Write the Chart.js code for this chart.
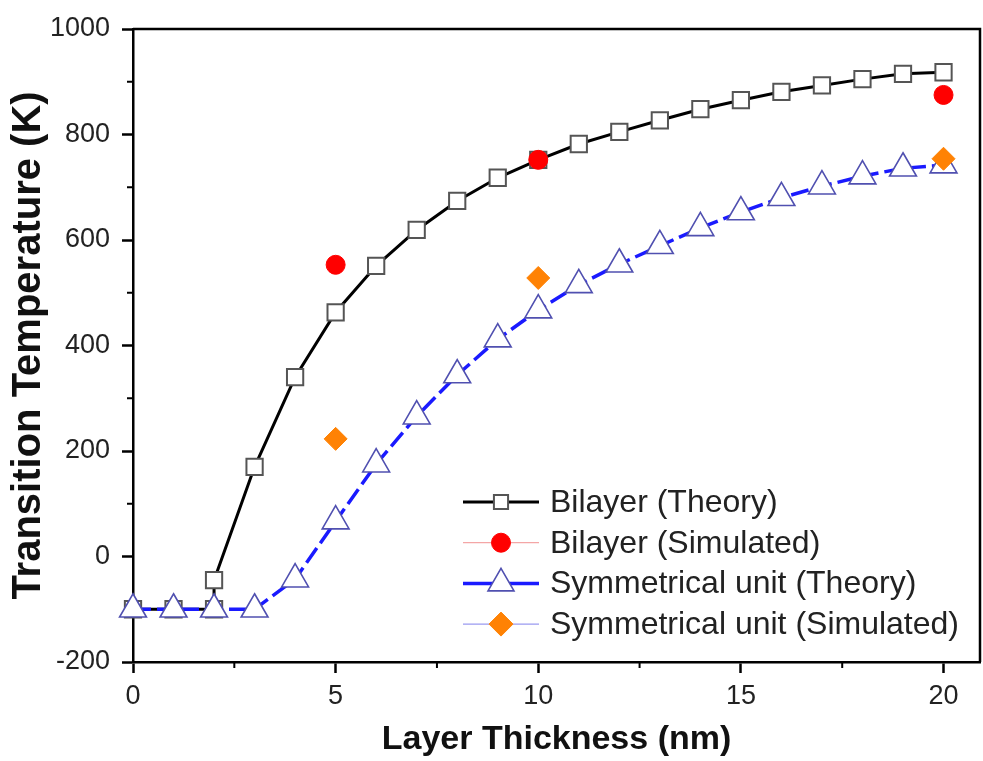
<!DOCTYPE html>
<html>
<head>
<meta charset="utf-8">
<script src="https://cdn.jsdelivr.net/npm/chart.js@4.4.0/dist/chart.umd.min.js"></script>
<style>
  html, body { margin: 0; padding: 0; background: #fff; overflow: hidden; }
  #wrap { position: relative; width: 983px; height: 761px; }
  canvas { display: block; }
</style>
</head>
<body>
<div id="wrap"><canvas id="tcChart"></canvas></div>
<script>
// layer thickness (nm) for each series
const THICK_BILAYER = [0, 1, 2, 2, 3, 4, 5, 6, 7, 8, 9, 10, 11, 12, 13, 14, 15, 16, 17, 18, 19, 20];
const THICK_SYM = [0, 1, 2, 3, 4, 5, 6, 7, 8, 9, 10, 11, 12, 13, 14, 15, 16, 17, 18, 19, 20];
const THICK_SIM = [5, 10, 20];

// transition temperature (K)
const BILAYER_THEORY = [-100, -100, -100, -45, 170, 340, 463, 551, 619, 674, 718, 752, 782, 805, 827, 848, 865, 881, 893, 905, 915, 918];
const BILAYER_SIM = [553, 752, 875];
const SYM_THEORY = [-100, -100, -100, -100, -43, 67, 175, 266, 344, 412, 467, 515, 554, 589, 623, 653, 680, 702, 721, 736, 742];
const SYM_SIM = [223, 528, 754];

const Y_TICKS_MINOR = [-100, 100, 300, 500, 700, 900];
const X_TICKS_MINOR = [2.5, 7.5, 12.5, 17.5];

const FONT = "'Liberation Sans', Arial, sans-serif";
const pts = (xs, ys) => xs.map((x, i) => ({ x: x, y: ys[i] }));

// legend sample look (line + marker), one per dataset
const LEGEND_LOOK = [
  { line: '#000000', lw: 3,   marker: 'rect',     r: 10,  fill: '#fff',    stroke: '#555', mlw: 2 },
  { line: '#f4a6a6', lw: 1.2, marker: 'circle',   r: 9.5, fill: '#ff0000', stroke: '#ff0000', mlw: 1 },
  { line: '#1a1aff', lw: 3.5, marker: 'triangle', r: 15,  fill: '#fff',    stroke: '#5050b0', mlw: 1.6 },
  { line: '#9a9af0', lw: 1.2, marker: 'rectRot',  r: 12,  fill: '#ff8204', stroke: '#ff8204', mlw: 1 }
];

function drawMarker(ctx, m, x, y) {
  ctx.save();
  ctx.beginPath();
  if (m.marker === 'rect') {
    const s = m.r * Math.SQRT1_2;
    ctx.rect(x - s, y - s, 2 * s, 2 * s);
  } else if (m.marker === 'circle') {
    ctx.arc(x, y, m.r, 0, Math.PI * 2);
  } else if (m.marker === 'triangle') {
    ctx.moveTo(x, y - m.r);
    ctx.lineTo(x + m.r * Math.sin(Math.PI * 2 / 3), y - m.r * Math.cos(Math.PI * 2 / 3));
    ctx.lineTo(x + m.r * Math.sin(Math.PI * 4 / 3), y - m.r * Math.cos(Math.PI * 4 / 3));
    ctx.closePath();
  } else {
    ctx.moveTo(x - m.r, y); ctx.lineTo(x, y - m.r); ctx.lineTo(x + m.r, y); ctx.lineTo(x, y + m.r);
    ctx.closePath();
  }
  ctx.fillStyle = m.fill; ctx.fill();
  ctx.lineWidth = m.mlw; ctx.strokeStyle = m.stroke; ctx.stroke();
  ctx.restore();
}

const framePlugin = {
  id: 'frame',
  beforeDatasetsDraw(chart) {
    const { ctx, chartArea: a } = chart;
    ctx.save();
    ctx.strokeStyle = '#000'; ctx.lineWidth = 2.5;
    ctx.beginPath();
    ctx.moveTo(a.left, a.top); ctx.lineTo(a.right, a.top); ctx.lineTo(a.right, a.bottom);
    ctx.stroke();
    // minor ticks
    ctx.lineWidth = 2;
    const ys = chart.scales.y, xs = chart.scales.x;
    Y_TICKS_MINOR.forEach(v => {
      const p = ys.getPixelForValue(v);
      ctx.beginPath(); ctx.moveTo(a.left - 6, p); ctx.lineTo(a.left, p); ctx.stroke();
    });
    X_TICKS_MINOR.forEach(v => {
      const p = xs.getPixelForValue(v);
      ctx.beginPath(); ctx.moveTo(p, a.bottom); ctx.lineTo(p, a.bottom + 6); ctx.stroke();
    });
    ctx.restore();
  }
};

const legendPlugin = {
  id: 'insideLegend',
  afterDraw(chart) {
    const { ctx, chartArea: a } = chart;
    const x0 = a.left + 330, x1 = a.left + 406, xm = (x0 + x1) / 2, tx = a.left + 417;
    ctx.save();
    chart.data.datasets.forEach((ds, i) => {
      const y = a.bottom - 160 + i * 40.7;
      const m = LEGEND_LOOK[i];
      ctx.strokeStyle = m.line; ctx.lineWidth = m.lw;
      ctx.beginPath(); ctx.moveTo(x0, y); ctx.lineTo(x1, y); ctx.stroke();
      drawMarker(ctx, m, xm, y);
      ctx.fillStyle = '#222';
      ctx.font = '32px ' + FONT;
      ctx.textAlign = 'left'; ctx.textBaseline = 'middle';
      ctx.fillText(ds.label, tx, y + 1);
    });
    ctx.restore();
  }
};

new Chart(document.getElementById('tcChart'), {
  type: 'line',
  data: {
    datasets: [
      { label: 'Bilayer (Theory)', data: pts(THICK_BILAYER, BILAYER_THEORY), order: 4,
        borderColor: '#000', borderWidth: 3, pointStyle: 'rect', pointRadius: 11.5,
        pointBackgroundColor: '#fff', pointBorderColor: '#555', pointBorderWidth: 2 },
      { label: 'Bilayer (Simulated)', data: pts(THICK_SIM, BILAYER_SIM), order: 2, showLine: false,
        borderColor: '#f4a6a6', pointStyle: 'circle', pointRadius: 9.5,
        pointBackgroundColor: '#ff0000', pointBorderColor: '#ff0000', pointBorderWidth: 1 },
      { label: 'Symmetrical unit (Theory)', data: pts(THICK_SYM, SYM_THEORY), order: 3,
        borderColor: '#1a1aff', borderWidth: 3.5, borderDash: [18, 6], pointStyle: 'triangle', pointRadius: 15.5,
        pointBackgroundColor: '#fff', pointBorderColor: '#5050b0', pointBorderWidth: 1.6 },
      { label: 'Symmetrical unit (Simulated)', data: pts(THICK_SIM, SYM_SIM), order: 1, showLine: false,
        borderColor: '#9a9af0', pointStyle: 'rectRot', pointRadius: 11.5,
        pointBackgroundColor: '#ff8204', pointBorderColor: '#ff8204', pointBorderWidth: 1 }
    ]
  },
  options: {
    responsive: true, maintainAspectRatio: false, animation: false,
    clip: false,
    layout: { autoPadding: false, padding: { top: 29, right: 3, left: 0, bottom: 0 } },
    elements: { line: { tension: 0 }, point: { hoverRadius: 0 } },
    plugins: { legend: { display: false }, tooltip: { enabled: false } },
    scales: {
      x: {
        type: 'linear', min: 0, max: 20.9,
        afterFit: s => { s.height = 99; s.paddingLeft = 0; s.paddingRight = 0; },
        border: { color: '#000', width: 2.5 },
        grid: { drawOnChartArea: false, tickLength: 11, tickColor: '#000', tickWidth: 2.5 },
        ticks: { stepSize: 5, includeBounds: false, padding: 7, color: '#222', font: { family: FONT, size: 27 },
                 callback: v => String(v) },
        title: { display: true, text: 'Layer Thickness (nm)', color: '#111', padding: { top: 0, bottom: 1 },
                 font: { family: FONT, size: 34, weight: 'bold' } }
      },
      y: {
        type: 'linear', min: -200, max: 1000,
        afterFit: s => { s.width = 133; s.paddingTop = 0; s.paddingBottom = 0; },
        border: { color: '#000', width: 2.5 },
        grid: { drawOnChartArea: false, tickLength: 11, tickColor: '#000', tickWidth: 2.5 },
        ticks: { stepSize: 200, padding: 12, color: '#222', font: { family: FONT, size: 27 },
                 callback: v => String(v) },
        title: { display: true, text: 'Transition Temperature (K)', color: '#111', padding: { top: 5, bottom: 0 },
                 font: { family: FONT, size: 40, weight: 'bold' } }
      }
    }
  },
  plugins: [framePlugin, legendPlugin]
});
</script>
</body>
</html>
